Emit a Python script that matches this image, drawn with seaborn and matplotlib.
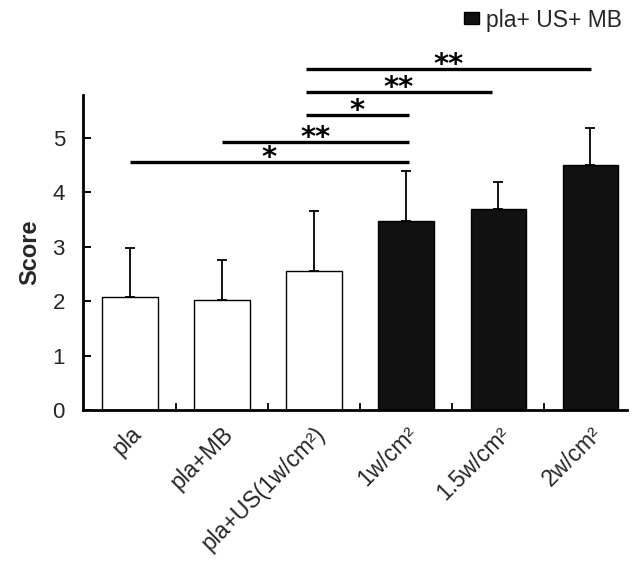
import matplotlib
matplotlib.use("Agg")
import matplotlib.pyplot as plt
import matplotlib.transforms as mtransforms
from matplotlib.textpath import TextPath
from matplotlib.font_manager import FontProperties
import seaborn as sns
import pandas as pd
import numpy as np
from matplotlib.patches import Patch

categories = ["pla", "pla+MB", "pla+US(1w/cm²)", "1w/cm²", "1.5w/cm²", "2w/cm²"]
means = [2.07, 2.01, 2.55, 3.47, 3.68, 4.50]
err_top = [2.97, 2.75, 3.66, 4.38, 4.18, 5.17]
groups = ["ctrl", "ctrl", "ctrl", "pla+ US+ MB", "pla+ US+ MB", "pla+ US+ MB"]

sig_start = [0, 1, 1.91, 1.91, 1.91]
sig_end = [3.03, 3.03, 3.03, 3.93, 5.01]
sig_y = [4.55, 4.92, 5.41, 5.83, 6.26]
sig_text = ["*", "**", "*", "**", "**"]

sns.set_theme(style="white")
plt.rcParams["font.family"] = ["Liberation Sans", "DejaVu Sans"]

df = pd.DataFrame({"cat": categories, "score": means, "grp": groups})

W, H = 640, 564
fig = plt.figure(figsize=(6.4, 5.64), dpi=100)
ax = fig.add_axes([83 / W, (H - 410) / H, (627 - 83) / W, (410 - 95) / H])

dark = "#111111"
face = ["white" if g == "ctrl" else dark for g in groups]
sns.barplot(data=df, x="cat", y="score", order=categories, palette=face,
            hue="cat", legend=False, width=0.6, errorbar=None,
            edgecolor="black", linewidth=1.0, ax=ax)

x = np.arange(len(categories))
up = np.array(err_top) - np.array(means)
ax.errorbar(x, means, yerr=[np.zeros_like(up), up], fmt="none",
            ecolor="black", elinewidth=1.3, capsize=3.6, capthick=1.3, zorder=3)

star_fp = FontProperties(family="DejaVu Sans", weight="bold", size=21)
ink = TextPath((0, 0), "*", prop=star_fp).get_extents()
gap_pt = 2.8
for s, e, y, t in zip(sig_start, sig_end, sig_y, sig_text):
    ax.plot([s, e], [y, y], color="black", lw=2.4, clip_on=False, solid_capstyle="butt")
    ax.annotate(t, xy=((s + e) / 2, y), xytext=(0, gap_pt - ink.y0), textcoords="offset points",
                ha="center", va="baseline", fontproperties=star_fp, color="black",
                annotation_clip=False)

ax.set_xlim(-0.51, 5.4)
ax.set_ylim(0, 5.78)
ax.set_yticks([0, 1, 2, 3, 4, 5])
ax.set_xticks(x)
ax.set_xticklabels(categories, rotation=45, ha="right", rotation_mode="anchor", fontsize=16.5)
shift = mtransforms.ScaledTranslation(12 / 100, 0, fig.dpi_scale_trans)
for lab in ax.get_xticklabels():
    lab.set_transform(lab.get_transform() + shift)
ax.set_xticks(x[:-1] + 0.5, minor=True)
ax.tick_params(axis="x", which="major", length=0, pad=9)
ax.tick_params(axis="x", which="minor", direction="in", length=5, width=1.3, color="black", bottom=True)
ax.tick_params(axis="y", which="major", direction="in", length=6, width=1.4, color="black",
               labelsize=16, left=True, pad=13)
ax.set_xlabel("")
ax.set_ylabel("Score", fontsize=17, fontweight="bold", labelpad=8)
for side in ["top", "right"]:
    ax.spines[side].set_visible(False)
for side in ["left", "bottom"]:
    ax.spines[side].set_color("black")
    ax.spines[side].set_linewidth(2.0)

handle = Patch(facecolor=dark, edgecolor="black", label="pla+ US+ MB")
fig.legend(handles=[handle], loc="center right", bbox_to_anchor=(622 / W, 1 - 20 / H),
           frameon=False, fontsize=16.5, handlelength=0.65, handleheight=0.45,
           handletextpad=0.3, borderpad=0, borderaxespad=0)

fig.savefig("out.png", dpi=100)
